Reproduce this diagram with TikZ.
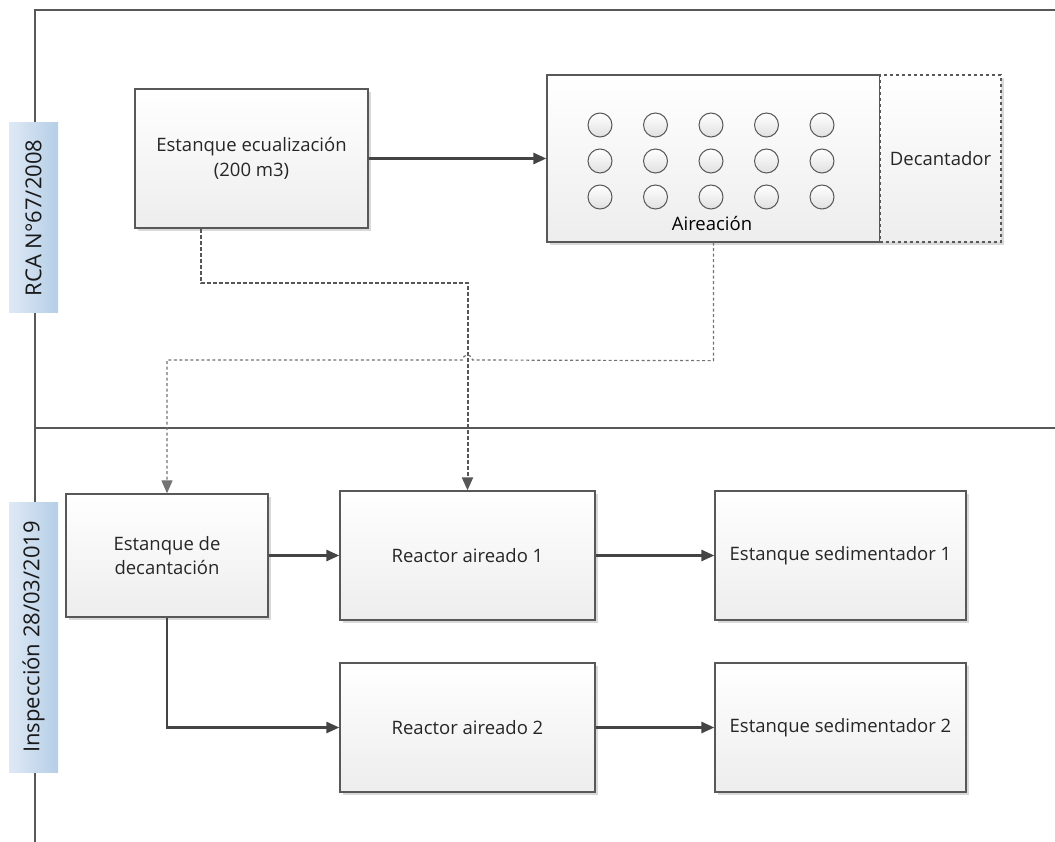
\documentclass[tikz,border=0pt]{standalone}
\usepackage{fontspec}
\setmainfont{Open Sans}
\usetikzlibrary{arrows.meta,shadows}
\definecolor{edge}{HTML}{585858}
\definecolor{wire}{HTML}{444444}
\definecolor{laneTop}{HTML}{B5CEE7}
\definecolor{laneBot}{HTML}{DFE9F5}
\tikzset{
  box/.style={draw=edge, line width=1.3pt, top color=white, bottom color=black!7,
    align=center, inner sep=0pt, text=black!85,
    drop shadow={shadow xshift=3pt, shadow yshift=-3pt, fill=black!25, opacity=.6}},
  bubble/.style={circle, draw=edge, line width=1pt, minimum size=24pt, inner sep=0pt,
    top color=white, bottom color=black!12},
  lane/.style={left color=laneBot, right color=laneTop, minimum height=49pt, inner sep=0pt,
    rotate=90, text=black!90, font=\fontsize{22}{26}\selectfont},
  flow/.style={draw=wire, line width=2.6pt, -{Triangle[length=13pt,width=11pt]}},
  dashdark/.style={draw=wire!90, line width=2pt, dash pattern=on 4pt off 2pt,
    -{Triangle[length=13pt,width=11pt]}},
  dashlight/.style={draw=black!55, line width=1.2pt, dash pattern=on 3pt off 2.5pt,
    -{Triangle[length=13pt,width=11pt]}}
}
\begin{document}
\begin{tikzpicture}[x=1pt,y=-1pt,font=\fontsize{18.5}{24.5}\selectfont]
    \useasboundingbox (0,0) rectangle (1055,842);

        \draw[edge, line width=1.3pt] (1055,10) -- (35,10) -- (35,842);
        \draw[edge, line width=1.3pt] (35,428) -- (1055,428);
        \node[lane, minimum width=190pt] (rca) at (33.5,218) {RCA N°67/2008};
        \node[lane, minimum width=270pt] (insp) at (33.5,637) {Inspección 28/03/2019};

        \node[box, minimum width=233pt, minimum height=139pt] (ecu) at (251.5,158.5) {Estanque ecualización\\(200 m3)};
        \node[box, minimum width=333pt, minimum height=167pt] (aire) at (713.5,158.5) {};
        \node[box, dashed, minimum width=121pt, minimum height=167pt] (dec) at (940.5,158.5) {Decantador};
        \node (airelbl) at (712,224) {Aireación};
        \foreach \i in {0,...,4}
            \foreach \j in {0,1,2}
                \node[bubble] (b\i\j) at (600+55.5*\i,125+36*\j) {};

        \node[box, minimum width=202pt, minimum height=123pt] (deca) at (167,555.5) {Estanque de\\decantación};
        \node[box, minimum width=255pt, minimum height=129pt] (r1) at (467.5,555.5) {Reactor aireado 1};
        \node[box, minimum width=255pt, minimum height=129pt] (r2) at (467.5,727.5) {Reactor aireado 2};
        \node[box, minimum width=251pt, minimum height=129pt] (s1) at (840.5,555.5) {Estanque sedimentador 1};
        \node[box, minimum width=251pt, minimum height=129pt] (s2) at (840.5,727.5) {Estanque sedimentador 2};

        \coordinate (k1) at (467.5,283);
        \coordinate (k2) at (167,360);

        \draw[flow] (ecu.east) -- (aire.west);
        \draw[dashdark] ([xshift=-50.5pt]ecu.south) |- (k1) -- (r1.north);
        \draw[dashlight] (aire.south) -- ++(0,118) -- (472.5,360) arc (0:-180:5) -- (k2) -- (deca.north);
        \draw[flow] (deca.east) -- (r1.west);
        \draw[flow] (deca.south) |- (r2.west);
        \draw[flow] (r1.east) -- (s1.west);
        \draw[flow] (r2.east) -- (s2.west);

\end{tikzpicture}
\end{document}
